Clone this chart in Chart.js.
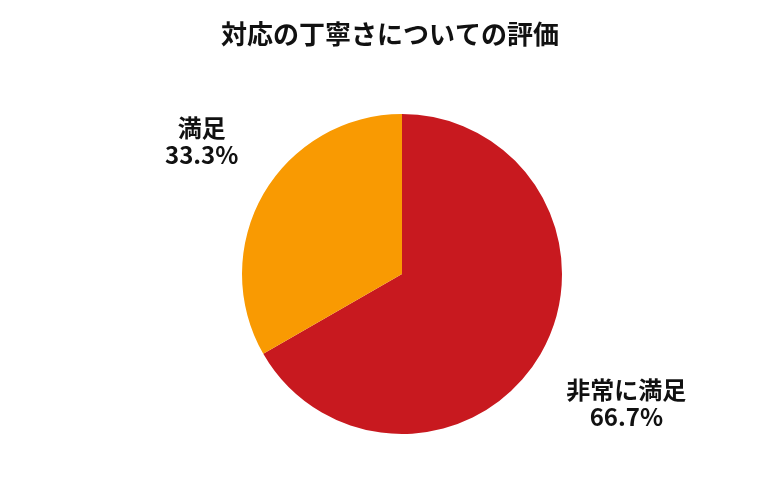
<!DOCTYPE html>
<html lang="ja">
<head>
<meta charset="utf-8">
<title>対応の丁寧さについての評価</title>
<script src="https://cdn.jsdelivr.net/npm/chart.js@4.4.1/dist/chart.umd.min.js"></script>
<style>
    html, body { margin: 0; padding: 0; background: #ffffff; }
    #wrap { width: 780px; height: 500px; }
</style>
</head>
<body>
<div id="wrap"><canvas id="pieChart" width="780" height="500"></canvas></div>
<script>
const chartTitle = '対応の丁寧さについての評価';
const categories = ['非常に満足', '満足'];
const shares = [66.7, 33.3];
const sliceColors = ['#C8191F', '#F99A02'];

const FONT = '"Noto Sans CJK JP", "Noto Sans", sans-serif';

// draws the title and the outside labels (name + percent) for each slice
const outsideLabels = {
    id: 'outsideLabels',
    afterDraw(chart, args, opts) {
        const ctx = chart.ctx;
        ctx.save();
        ctx.fillStyle = '#111111';
        ctx.textAlign = 'center';
        ctx.textBaseline = 'middle';

        ctx.font = 'bold 26px ' + FONT;
        ctx.fillText(chartTitle, chart.width / 2, 34);

        ctx.font = 'bold 24px ' + FONT;
        const meta = chart.getDatasetMeta(0);
        meta.data.forEach((arc, i) => {
            const p = arc.getProps(['x', 'y', 'startAngle', 'endAngle', 'outerRadius'], true);
            const mid = (p.startAngle + p.endAngle) / 2;
            const d = p.outerRadius * opts.distance;
            const nudge = opts.nudge[i] || [0, 0];
            const x = p.x + Math.cos(mid) * d + nudge[0];
            const y = p.y + Math.sin(mid) * d + nudge[1];
            ctx.fillText(chart.data.labels[i], x, y - 13.5);
            ctx.fillText(chart.data.datasets[0].data[i].toFixed(1) + '%', x, y + 13.5);
        });
        ctx.restore();
    }
};

const ctx = document.getElementById('pieChart').getContext('2d');
const pieChart = new Chart(ctx, {
    type: 'pie',
    data: {
        labels: categories,
        datasets: [{
            data: shares,
            backgroundColor: sliceColors,
            borderWidth: 0
        }]
    },
    options: {
        responsive: false,
        animation: false,
        layout: {
            padding: { top: 114, bottom: 66, left: 24, right: 0 }
        },
        plugins: {
            legend: { display: false },
            tooltip: { enabled: false },
            title: { display: false },
            outsideLabels: {
                distance: 1.62,
                nudge: [[0, 0], [24, -3]]
            }
        }
    },
    plugins: [outsideLabels]
});
</script>
</body>
</html>
